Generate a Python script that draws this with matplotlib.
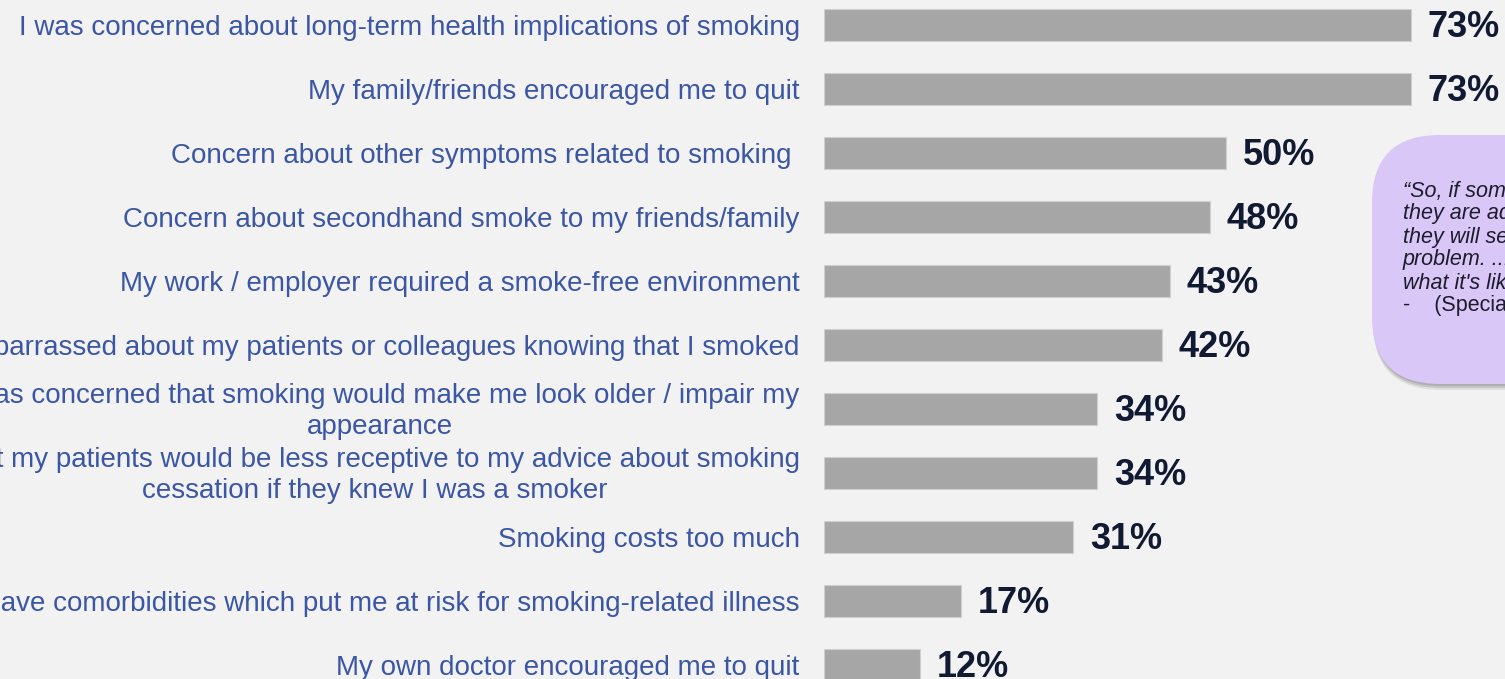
import matplotlib
matplotlib.use("Agg")
import matplotlib.pyplot as plt
from matplotlib.patches import FancyBboxPatch

reasons = [
    "I was concerned about long-term health implications of smoking",
    "My family/friends encouraged me to quit",
    "Concern about other symptoms related to smoking ",
    "Concern about secondhand smoke to my friends/family",
    "My work / employer required a smoke-free environment",
    "I was embarrassed about my patients or colleagues knowing that I smoked",
    "I was concerned that smoking would make me look older / impair my\nappearance",
    "I felt my patients would be less receptive to my advice about smoking\ncessation if they knew I was a smoker",
    "Smoking costs too much",
    "I have comorbidities which put me at risk for smoking-related illness",
    "My own doctor encouraged me to quit",
]
shares = [73, 73, 50, 48, 43, 42, 34, 34, 31, 17, 12]

quote_lines = [
    "\u201cSo, if someone is a smoker and",
    "they are advising patients to quit,",
    "they will see it as a real",
    "problem. ... They know",
    "what it's like.\u201d",
    "-    (Specialist)",
]

W, H = 1505, 679
BG = "#f2f2f2"
BAR = "#a6a6a6"
LABEL_COLOR = "#3b56a5"
VALUE_COLOR = "#111a33"

plt.rcParams["font.family"] = ["Liberation Sans", "DejaVu Sans"]

fig = plt.figure(figsize=(W / 100, H / 100), dpi=100, facecolor=BG)

bar_left_px = 824
px_per_pct = 8.04
row_px = 64
first_center_px = 25

ax = fig.add_axes([bar_left_px / W, 0, 1 - bar_left_px / W, 1])
ax.set_facecolor("none")
ax.set_xlim(0, (W - bar_left_px) / px_per_pct)
ax.set_ylim((H - first_center_px) / row_px, -first_center_px / row_px)
ax.axis("off")

ypos = list(range(len(shares)))
ax.barh(ypos, shares, height=0.5, color=BAR, edgecolor="#cfcfcf", linewidth=0.8)

for y, v, lab in zip(ypos, shares, reasons):
    ax.annotate(f"{v}%", xy=(v, y), xytext=(12, -2), textcoords="offset points",
                ha="left", va="center", fontsize=26, fontweight="bold",
                color=VALUE_COLOR, annotation_clip=False)
    ax.annotate(lab, xy=(0, y), xytext=(-17.5, -2), textcoords="offset points",
                ha="right", va="center", multialignment="center",
                fontsize=20, color=LABEL_COLOR, linespacing=1.24,
                annotation_clip=False)

# callout with a soft drop shadow under its lower edge
bx0, by_top, by_bot = 1372, 135, 384
box_w = 420
for off, alpha in ((6, 0.18), (4, 0.3), (2, 0.4)):
    shadow = FancyBboxPatch(((bx0 + 1) / W, 1 - (by_bot + off) / H),
                            box_w / W, (by_bot - by_top) / H,
                            boxstyle="round,pad=0,rounding_size=0.045",
                            transform=fig.transFigure, facecolor="#8c8c8c",
                            alpha=alpha, edgecolor="none", mutation_aspect=W / H)
    fig.patches.append(shadow)
box = FancyBboxPatch((bx0 / W, 1 - by_bot / H), box_w / W, (by_bot - by_top) / H,
                     boxstyle="round,pad=0,rounding_size=0.045",
                     transform=fig.transFigure, facecolor="#d9c7f7",
                     edgecolor="none", mutation_aspect=W / H)
fig.patches.append(box)

for i, line in enumerate(quote_lines):
    fig.text(1403 / W, 1 - (191 + 23 * i) / H, line, ha="left", va="center",
             fontsize=15.5, style="italic" if i < 5 else "normal",
             color="#1c1c2c")

fig.savefig("out.png", dpi=100, facecolor=BG)
